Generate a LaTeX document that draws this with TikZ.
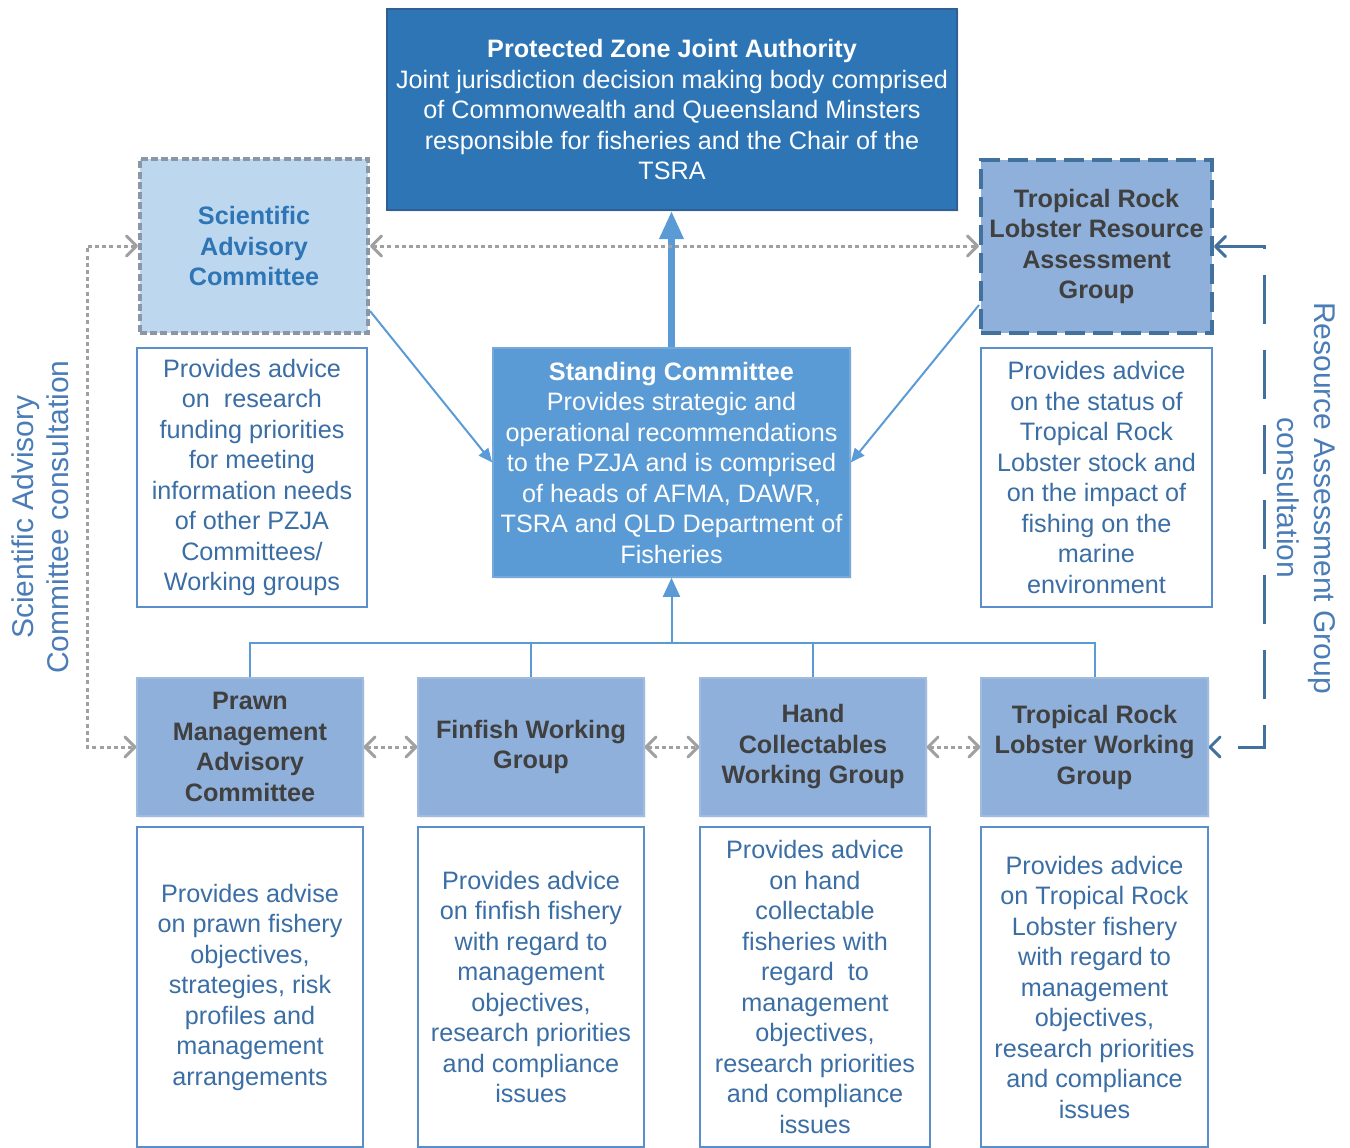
\documentclass[tikz,border=0pt]{standalone}
\usepackage{fontspec}
\setmainfont{Liberation Sans}
\usetikzlibrary{arrows.meta,shadows,calc}
\definecolor{pzja}{HTML}{2E75B6}
\definecolor{pzjaborder}{HTML}{2F5F95}
\definecolor{scfill}{HTML}{5B9BD5}
\definecolor{sacfill}{HTML}{BDD7EE}
\definecolor{sacborder}{HTML}{8C97A6}
\definecolor{midfill}{HTML}{8EB0DA}
\definecolor{darkblue}{HTML}{41719C}
\definecolor{darktext}{HTML}{404040}
\definecolor{desctext}{HTML}{3A6EA5}
\definecolor{descborder}{HTML}{5A8FCB}
\definecolor{dotgray}{HTML}{A0A0A0}
\definecolor{labelblue}{HTML}{4A7DB8}
\begin{document}
\begin{tikzpicture}[x=0.5pt,y=-0.5pt,
  boxtext/.style={font=\fontsize{12.6}{15.25}\selectfont, align=center, inner sep=0pt},
  boldtext/.style={font=\fontsize{12.6}{15.25}\selectfont\bfseries, align=center, inner sep=0pt},
  softshadow/.style={drop shadow={opacity=0.12, shadow xshift=1pt, shadow yshift=-1.2pt}},
  pzjabox/.style={boxtext, fill=pzja, draw=pzjaborder, line width=1pt, text=white, softshadow},
  scbox/.style={boxtext, fill=scfill, draw=scfill!85!white, line width=0.8pt, text=white, softshadow},
  sacbox/.style={boldtext, fill=sacfill, draw=sacborder, line width=2pt, dash pattern=on 3.5pt off 1.6pt, text=pzja},
  ragbox/.style={boldtext, fill=midfill, draw=darkblue, line width=2pt, dash pattern=on 10pt off 4pt, text=darktext},
  wgbox/.style={boldtext, fill=midfill, draw=midfill!85!white, line width=0.6pt, text=darktext, softshadow},
  descbox/.style={boxtext, fill=white, draw=descborder, line width=1pt, text=desctext},
  sidelabel/.style={font=\fontsize{15}{17.5}\selectfont, text=labelblue, align=center, inner sep=0pt},
  chev/.tip={Straight Barb[length=5pt,width=10pt,round]},
  dotarrow/.style={draw=dotgray, line width=1.5pt, dash pattern=on 2pt off 1.6pt, arrows={chev-chev}},
  ragarrow/.style={draw=darkblue, line width=1.5pt, dash pattern=on 24.5pt off 13pt, arrows={chev-chev}},
  thinarrow/.style={draw=scfill, line width=1pt, -{Triangle[length=7pt,width=6pt]}},
  treeline/.style={draw=scfill, line width=1pt},
  thickarrow/.style={draw=scfill, line width=3.2pt, -{Triangle[length=14pt,width=11.5pt]}}
]
\useasboundingbox (0,0) rectangle (1350,1147);

% top row
\node[pzjabox, minimum width=285pt, minimum height=100.5pt] (pzja) at (672,109.5)
  {\textbf{Protected Zone Joint Authority}\\Joint jurisdiction decision making body comprised\\of Commonwealth and Queensland Minsters\\responsible for fisheries and the Chair of the\\TSRA};
\node[scbox, minimum width=178.5pt, minimum height=114.5pt] (sc) at (671.5,462.5)
  {\textbf{Standing Committee}\\Provides strategic and\\operational recommendations\\to the PZJA and is comprised\\of heads of AFMA, DAWR,\\TSRA and QLD Department of\\Fisheries};
\node[sacbox, minimum width=114pt, minimum height=87pt] (sac) at (254,246)
  {Scientific\\Advisory\\Committee};
\node[ragbox, minimum width=115.5pt, minimum height=86.5pt] (rag) at (1096.5,246.5)
  {Tropical Rock\\Lobster Resource\\Assessment\\Group};
\node[descbox, minimum width=115pt, minimum height=129.5pt] (sacd) at (252,477.5)
  {Provides advice\\on \ research\\funding priorities\\for meeting\\information needs\\of other PZJA\\Committees/\\Working groups};
\node[descbox, minimum width=115.5pt, minimum height=129.5pt] (ragd) at (1096.5,477.5)
  {Provides advice\\on the status of\\Tropical Rock\\Lobster stock and\\on the impact of\\fishing on the\\marine\\environment};

% working groups
\node[wgbox, minimum width=113pt, minimum height=69pt] (prawn) at (250,747)
  {Prawn\\Management\\Advisory\\Committee};
\node[wgbox, minimum width=113pt, minimum height=69pt] (fin) at (531,747)
  {Finfish Working\\Group};
\node[wgbox, minimum width=113pt, minimum height=69pt] (hand) at (813,747)
  {Hand\\Collectables\\Working Group};
\node[wgbox, minimum width=113.5pt, minimum height=69pt] (trl) at (1094.5,747)
  {Tropical Rock\\Lobster Working\\Group};

% descriptions
\node[descbox, minimum width=113pt, minimum height=160pt] (prawnd) at (250,987)
  {Provides advise\\on prawn fishery\\objectives,\\strategies, risk\\profiles and\\management\\arrangements};
\node[descbox, minimum width=113pt, minimum height=160pt] (find) at (531,987)
  {Provides advice\\on finfish fishery\\with regard to\\management\\objectives,\\research priorities\\and compliance\\issues};
\node[descbox, minimum width=115pt, minimum height=160pt] (handd) at (815,987)
  {Provides advice\\on hand\\collectable\\fisheries with\\regard \ to\\management\\objectives,\\research priorities\\and compliance\\issues};
\node[descbox, minimum width=113.5pt, minimum height=160pt] (trld) at (1094.5,987)
  {Provides advice\\on Tropical Rock\\Lobster fishery\\with regard to\\management\\objectives,\\research priorities\\and compliance\\issues};

% side labels
\node[sidelabel, rotate=90] (llabel) at (40,517) {Scientific Advisory\\Committee consultation};
\node[sidelabel, rotate=-90, font=\fontsize{15}{18.5}\selectfont] (rlabel) at (1306.5,498) {Resource Assessment Group\\consultation};

% connectors
\draw[thickarrow] (sc.north) -- (sc.north |- pzja.south);
\draw[dotarrow] (sac.east) -- (rag.west |- sac.east);
\draw[thinarrow] ($(sac.east)+(0,65)$) -- (sc.west);
\draw[thinarrow] ($(rag.west)+(0,58.5)$) -- (sc.east);

\coordinate (hub) at (671.5,643);
\draw[treeline] (prawn.north) -- (prawn.north |- hub) -- (trl.north |- hub) -- (trl.north);
\draw[treeline] (fin.north) -- (fin.north |- hub);
\draw[treeline] (hand.north) -- (hand.north |- hub);
\draw[treeline, -{Triangle[length=9.5pt,width=8.5pt]}] (hub) -- (sc.south);

\coordinate (lcornertop) at (87,246);
\coordinate (lcornerbot) at (87,747);
\draw[dotarrow] (sac.west) -- (lcornertop) -- (lcornerbot) -- (prawn.west);
\draw[dotarrow] (prawn.east) -- (fin.west);
\draw[dotarrow] (fin.east) -- (hand.west);
\draw[dotarrow] (hand.east) -- (trl.west);

\coordinate (rcornertop) at (1264,246.5);
\coordinate (rcornerbot) at (1264,747);
\draw[ragarrow] (rag.east) -- (rcornertop) -- (rcornerbot) -- (trl.east);
\end{tikzpicture}
\end{document}
